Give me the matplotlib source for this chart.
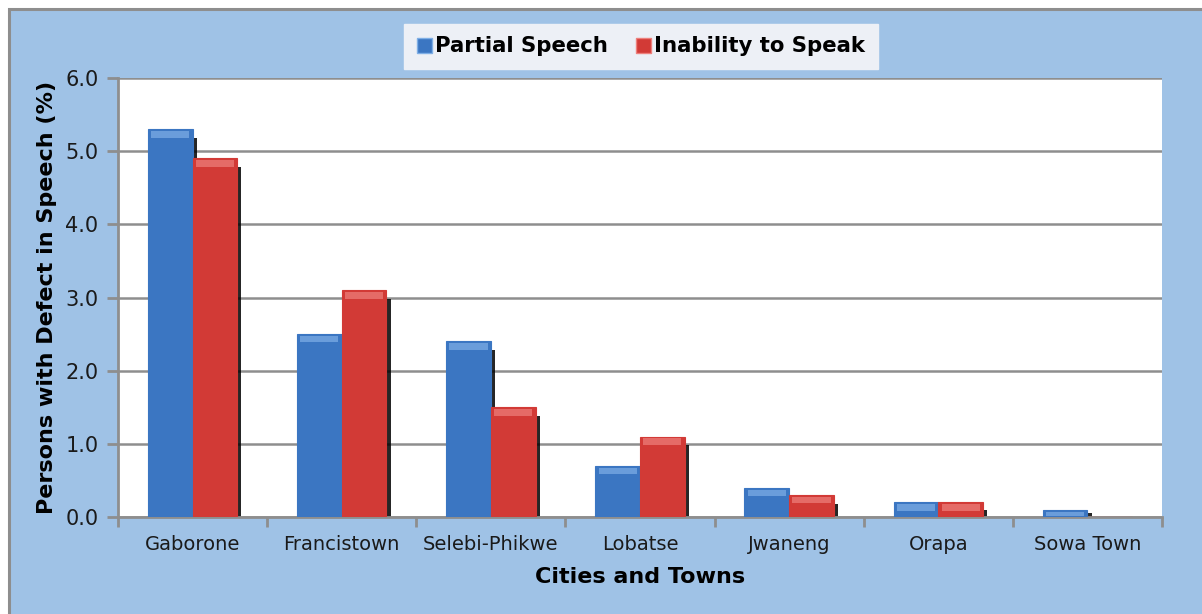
import numpy as np
import matplotlib.pyplot as plt
from matplotlib.patches import Rectangle, Patch

# Persons with speech defects by city/town (%)
cities = ['Gaborone', 'Francistown', 'Selebi-Phikwe', 'Lobatse', 'Jwaneng', 'Orapa', 'Sowa Town']
partial_speech = [5.3, 2.5, 2.4, 0.7, 0.4, 0.2, 0.1]
inability_to_speak = [4.9, 3.1, 1.5, 1.1, 0.3, 0.2, 0.0]
y_ticks = [0.0, 1.0, 2.0, 3.0, 4.0, 5.0, 6.0]

plt.rcParams['font.family'] = ['DejaVu Sans']

bg_blue = '#9FC2E6'
grid_gray = '#8E8E8E'

fig = plt.figure(figsize=(12.02, 6.14), dpi=100, facecolor='white')

# light blue chart panel with grey frame
panel = Rectangle((9 / 1202, -0.05), 1.1, 1 - 9 / 614 + 0.05, transform=fig.transFigure,
                  facecolor=bg_blue, edgecolor=grid_gray, linewidth=2.2, zorder=-5)
fig.patches.append(panel)

ax = fig.add_axes([118 / 1202, 1 - 517 / 614, (1162 - 118) / 1202, (517 - 78) / 614])
ax.set_facecolor('white')

x = np.arange(len(cities))
w = 0.30

series = [
    (partial_speech, -w / 2, '#3B76C2', '#7FAFE6', 'Partial Speech'),
    (inability_to_speak, w / 2, '#D23A36', '#EE807C', 'Inability to Speak'),
]

for vals, off, col, light, _ in series:
    vals = np.array(vals)
    drop = np.minimum(0.12, vals * 0.5)
    # dark drop shadow on the right edge
    ax.bar(x + off + 0.028, np.where(vals > 0, vals - drop, 0), w, color='black',
           alpha=0.85, zorder=2, linewidth=0)
    ax.bar(x + off, vals, w, color=col, zorder=3, linewidth=0.8, edgecolor=col)
    # bevelled highlight along the top
    band = np.minimum(0.09, vals * 0.6)
    ax.bar(x + off, band, w * 0.85, bottom=vals - band - 0.025, color=light,
           alpha=0.7, zorder=4, linewidth=0)

ax.set_xlim(-0.5, len(cities) - 0.5)
ax.set_ylim(0, 6.0)
ax.set_yticks(y_ticks)
ax.set_yticklabels([f'{t:.1f}' for t in y_ticks], fontsize=15, color='#1a1a1a')
ax.set_xticks(x)
ax.set_xticklabels(cities, fontsize=14, color='#1a1a1a')
ax.set_xticks(np.arange(-0.5, len(cities)), minor=True)
ax.tick_params(axis='x', which='major', length=0, pad=13)
ax.tick_params(axis='x', which='minor', length=7, width=2, color=grid_gray, direction='out')
ax.tick_params(axis='y', length=8, width=2, color=grid_gray, direction='out', pad=6)

ax.grid(axis='y', color=grid_gray, linewidth=1.8, zorder=1)
ax.set_axisbelow(True)
for side in ['top', 'right']:
    ax.spines[side].set_visible(False)
for side in ['left', 'bottom']:
    ax.spines[side].set_color(grid_gray)
    ax.spines[side].set_linewidth(2)

ax.set_xlabel('Cities and Towns', fontsize=16, fontweight='bold', labelpad=9)
ax.set_ylabel('Persons with Defect in Speech (%)', fontsize=16, fontweight='bold', labelpad=6)

handles = [Patch(facecolor=s[2], edgecolor=s[3], label=s[4]) for s in series]
leg = fig.legend(handles=handles, loc='center', bbox_to_anchor=(641 / 1202, 1 - 46.5 / 614),
                 ncol=2, frameon=True, fancybox=False, prop={'size': 15.3, 'weight': 'bold'},
                 handlelength=0.7, handleheight=0.7, handletextpad=0.15, columnspacing=1.3,
                 borderpad=0.6, borderaxespad=0)
leg.get_frame().set_facecolor('#EDF0F6')
leg.get_frame().set_edgecolor('#EDF0F6')
leg.get_frame().set_alpha(1)

fig.savefig('out.png', dpi=100, facecolor=fig.get_facecolor())
